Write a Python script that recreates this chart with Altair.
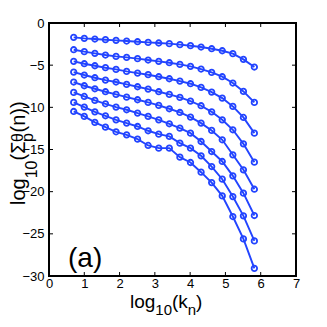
import altair as alt
import pandas as pd

# ---- data ----
x_vals = [0.70, 1.00, 1.30, 1.60, 1.90, 2.20, 2.51, 2.81, 3.11, 3.41,
          3.71, 4.01, 4.31, 4.61, 4.91, 5.21, 5.51, 5.82]

s1 = [-1.70, -1.82, -1.90, -1.98, -2.06, -2.14, -2.22, -2.30, -2.37, -2.45,
      -2.57, -2.69, -2.85, -3.05, -3.29, -3.64, -4.31, -5.22]
s2 = [-3.17, -3.40, -3.60, -3.80, -3.96, -4.08, -4.23, -4.39, -4.55, -4.71,
      -4.91, -5.14, -5.46, -5.86, -6.37, -7.12, -8.11, -9.42]
s3 = [-4.55, -4.83, -5.07, -5.30, -5.50, -5.74, -5.94, -6.13, -6.37, -6.61,
      -6.89, -7.20, -7.64, -8.19, -8.90, -9.89, -11.20, -13.06]
s4 = [-5.82, -6.17, -6.49, -6.77, -7.00, -7.28, -7.56, -7.84, -8.15, -8.47,
      -8.82, -9.26, -9.81, -10.53, -11.48, -12.66, -14.33, -16.50]
s5 = [-7.00, -7.44, -7.80, -8.15, -8.47, -8.79, -9.10, -9.42, -9.77, -10.17,
      -10.61, -11.16, -11.87, -12.74, -13.85, -15.63, -17.41, -19.71]
s6 = [-8.23, -8.71, -9.18, -9.58, -9.97, -10.29, -10.68, -11.08, -11.48, -11.95,
      -12.47, -13.06, -14.05, -15.24, -16.42, -18.12, -20.18, -22.83]
s7 = [-9.42, -9.97, -10.53, -11.00, -11.48, -11.87, -12.27, -12.78, -13.18, -13.45,
      -14.25, -14.84, -15.75, -17.02, -18.52, -20.58, -22.87, -25.84]
s8 = [-10.49, -11.08, -11.79, -12.35, -12.90, -13.26, -13.77, -14.52, -14.84, -14.84,
      -15.91, -16.54, -17.69, -18.92, -20.50, -22.95, -25.60, -29.09]

series = [s1, s2, s3, s4, s5, s6, s7, s8]
x_ticks = [0, 1, 2, 3, 4, 5, 6, 7]
y_ticks = [-30, -25, -20, -15, -10, -5, 0]

# ---- table ----
rows = []
for i, s in enumerate(series):
    for xv, yv in zip(x_vals, s):
        rows.append({"x": xv, "y": yv, "s": i})
df = pd.DataFrame(rows)

W, H = 247, 253
FONT = "Liberation Sans"
BLUE = "#2244ff"

xs = alt.Scale(domain=[0, 7], nice=False, zero=False)
ys = alt.Scale(domain=[-30, 0], nice=False, zero=False)
x_axis = alt.Axis(values=x_ticks, title=None, grid=False, ticks=False, tickSize=0,
                  domain=False, labelFont=FONT, labelFontSize=13,
                  labelColor="black", labelPadding=1, labelFlush=False)
y_axis = alt.Axis(values=y_ticks, title=None, grid=False, ticks=False, tickSize=0,
                  domain=False, labelFont=FONT, labelFontSize=13,
                  labelColor="black", labelPadding=5, labelFlush=False)

base = alt.Chart(df)
lines = base.mark_line(color=BLUE, strokeWidth=1.9).encode(
    x=alt.X("x:Q", scale=xs, axis=x_axis),
    y=alt.Y("y:Q", scale=ys, axis=y_axis),
    detail="s:N",
)
points = base.mark_point(shape="circle", filled=False, color=BLUE, size=30,
                         strokeWidth=1.8, opacity=1).encode(
    x=alt.X("x:Q", scale=xs, axis=x_axis), y=alt.Y("y:Q", scale=ys, axis=y_axis),
    detail="s:N")

xt = pd.DataFrame({"x": x_ticks})
yt = pd.DataFrame({"y": y_ticks})
tick_b = alt.Chart(xt).mark_rule(color="black", strokeWidth=1).encode(
    x=alt.X("x:Q", scale=xs, axis=x_axis), y=alt.value(H), y2=alt.value(H - 4))
tick_t = alt.Chart(xt).mark_rule(color="black", strokeWidth=1).encode(
    x=alt.X("x:Q", scale=xs, axis=x_axis), y=alt.value(0), y2=alt.value(4))
tick_l = alt.Chart(yt).mark_rule(color="black", strokeWidth=1).encode(
    y=alt.Y("y:Q", scale=ys, axis=y_axis), x=alt.value(0), x2=alt.value(4))
tick_r = alt.Chart(yt).mark_rule(color="black", strokeWidth=1).encode(
    y=alt.Y("y:Q", scale=ys, axis=y_axis), x=alt.value(W), x2=alt.value(W - 4))

frame = alt.Chart(alt.Data(values=[{}])).mark_rect(
    fill=None, fillOpacity=0, stroke="black", strokeWidth=2).encode(
    x=alt.value(0), x2=alt.value(W), y=alt.value(0), y2=alt.value(H))


def txt(s, x, y, size, angle=0):
    return alt.Chart(alt.Data(values=[{}])).mark_text(
        text=s, fontSize=size, angle=angle, align="left", baseline="alphabetic",
        font=FONT, color="black").encode(x=alt.value(x), y=alt.value(y))


# x title: log10(kn)
xb, xsub = 285, 292
xt0 = 81
x_title = [
    txt("log", xt0, xb, 19),
    txt("10", xt0 + 25.3, xsub, 15),
    txt("(k", xt0 + 25.3 + 16.7, xb, 19),
    txt("n", xt0 + 25.3 + 16.7 + 15.8, xsub, 15),
    txt(")", xt0 + 25.3 + 16.7 + 15.8 + 8.3, xb, 19),
]

# y title: log10(Σ_p^θ(n))
yb = -24
y0 = 182
y_title = [
    txt("log", yb, y0, 20, 270),
    txt("10", -12, y0 - 26.7, 16, 270),
    txt("(Σ", yb, y0 - 26.7 - 17.8, 20, 270),
    txt("p", -16, y0 - 26.7 - 17.8 - 18.5, 16, 270),
    txt("θ", -26, y0 - 26.7 - 17.8 - 18.5, 16, 270),
    txt("(n))", yb, y0 - 26.7 - 17.8 - 18.5 - 9.5, 20, 270),
]

panel = [txt("(a)", 19, 244, 28)]

chart = alt.layer(lines, points, tick_b, tick_t, tick_l, tick_r, frame,
                  *x_title, *y_title, *panel).properties(
    width=W, height=H,
    autosize=alt.AutoSizeParams(type="none"),
    padding={"left": 41, "top": 15, "right": 23, "bottom": 43},
).configure_view(stroke=None)

chart.save("out.html", embed_options={"renderer": "svg", "actions": False})
